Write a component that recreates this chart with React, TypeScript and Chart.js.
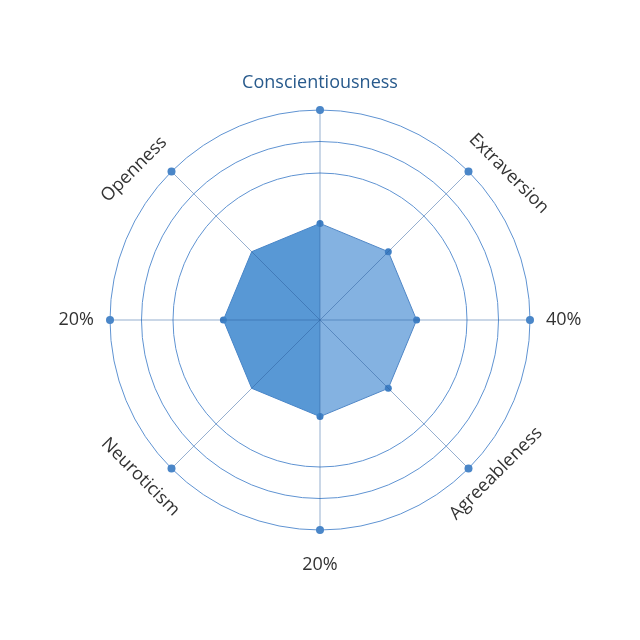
import { Chart, registerables } from 'chart.js';
import { useEffect, useRef } from 'react';

Chart.register(...registerables);

const axisLabels = ['Conscientiousness', 'Extraversion', '40%', 'Agreeableness', '20%', 'Neuroticism', '20%', 'Openness'];
const profileValues = [46, 46, 46, 46, 46, 46, 46, 46];
const leftHalfValues = [46, 0, 0, 0, 46, 46, 46, 46];
const outerValues = [100, 100, 100, 100, 100, 100, 100, 100];
const ringTicks = [0, 70, 85, 100];

// placement of each axis label: distance from centre, shift along the text, rotation (deg), alignment
const labelLayout = [
  { dist: 237, shift: 0, rot: 0, align: 'center' },
  { dist: 237, shift: 30, rot: 45, align: 'center' },
  { dist: 226, shift: 0, rot: 0, align: 'left' },
  { dist: 233, shift: 16, rot: -45, align: 'center' },
  { dist: 245, shift: 0, rot: 0, align: 'center' },
  { dist: 238, shift: -16, rot: 45, align: 'center' },
  { dist: 226, shift: 0, rot: 0, align: 'right' },
  { dist: 238, shift: -25, rot: -45, align: 'center' },
];

const FONT = '"Open Sans", "Noto Sans", sans-serif';

const angleLinesPlugin = {
  id: 'angleLinesOnTop',
  afterDatasetDraw(chart: any, args: any) {
    if (args.index !== 1) return;
    const scale = chart.scales.r;
    const ctx = chart.ctx;
    ctx.save();
    ctx.strokeStyle = 'rgba(45, 95, 160, 0.5)';
    ctx.lineWidth = 1;
    for (let i = 0; i < axisLabels.length; i++) {
      const p = scale.getPointPosition(i, scale.drawingArea);
      ctx.beginPath();
      ctx.moveTo(scale.xCenter, scale.yCenter);
      ctx.lineTo(p.x, p.y);
      ctx.stroke();
    }
    ctx.restore();
  },
};

const rotatedLabelsPlugin = {
  id: 'rotatedLabels',
  afterDraw(chart: any) {
    const scale = chart.scales.r;
    const ctx = chart.ctx;
    ctx.save();
    ctx.font = `18px ${FONT}`;
    ctx.textBaseline = 'middle';
    axisLabels.forEach((text, i) => {
      const cfg = labelLayout[i];
      const p = scale.getPointPosition(i, cfg.dist);
      ctx.save();
      ctx.translate(p.x, p.y);
      ctx.rotate((cfg.rot * Math.PI) / 180);
      ctx.textAlign = cfg.align;
      ctx.fillStyle = i === 0 ? '#285a8c' : '#333333';
      ctx.fillText(text, cfg.shift, 0);
      ctx.restore();
    });
    ctx.restore();
  },
};

export default function App() {
  const canvasRef = useRef<HTMLCanvasElement>(null);
  const chartRef = useRef<Chart | null>(null);

  useEffect(() => {
    if (!canvasRef.current) return;
    if (chartRef.current) chartRef.current.destroy();

    chartRef.current = new Chart(canvasRef.current, {
      type: 'radar',
      data: {
        labels: axisLabels,
        datasets: [
          {
            label: 'outer',
            data: outerValues,
            showLine: false,
            fill: false,
            backgroundColor: 'transparent',
            borderWidth: 0,
            pointRadius: 4,
            pointBackgroundColor: '#4a86c8',
            pointBorderWidth: 0,
          },
          {
            label: 'left half',
            data: leftHalfValues,
            fill: true,
            backgroundColor: 'rgba(60, 135, 205, 0.6)',
            borderWidth: 0,
            pointRadius: 0,
          },
          {
            label: 'profile',
            data: profileValues,
            fill: true,
            backgroundColor: 'rgba(110, 165, 220, 0.85)',
            borderColor: '#4f86c6',
            borderWidth: 1,
            pointRadius: [3.5, 3.5, 3.5, 3.5, 3.5, 0, 3.5, 0],
            pointBackgroundColor: '#3f7fc4',
            pointBorderWidth: 0,
          },
        ],
      },
      options: {
        responsive: true,
        maintainAspectRatio: false,
        animation: false,
        layout: { padding: 102 },
        plugins: {
          legend: { display: false },
          tooltip: { enabled: false },
        },
        scales: {
          r: {
            min: 0,
            max: 100,
            afterBuildTicks: (scale: any) => {
              scale.ticks = ringTicks.map((v) => ({ value: v }));
            },
            ticks: { display: false },
            pointLabels: { display: false },
            grid: { color: '#5f93d2', lineWidth: 1, circular: true },
            angleLines: { display: false },
          },
        },
      },
      plugins: [angleLinesPlugin, rotatedLabelsPlugin],
    });

    return () => {
      if (chartRef.current) {
        chartRef.current.destroy();
        chartRef.current = null;
      }
    };
  }, []);

  return (
    <div style={{ width: 624, height: 624 }}>
      <canvas ref={canvasRef} />
    </div>
  );
}
